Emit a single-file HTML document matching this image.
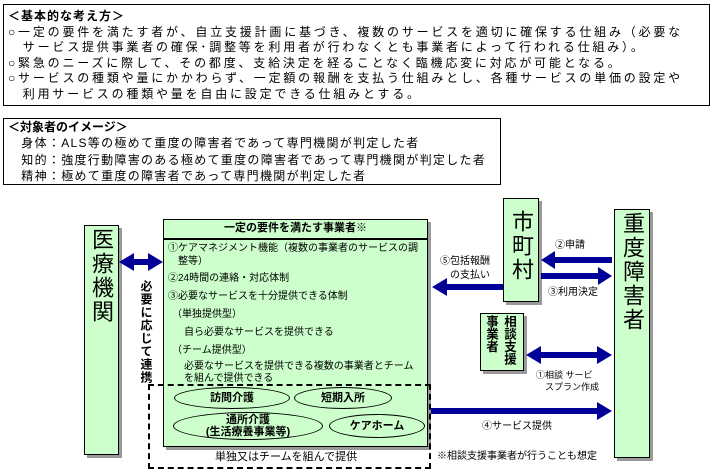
<!DOCTYPE html><html><head><meta charset="utf-8"><style>
body{margin:0;width:713px;height:472px;background:#fff;position:relative;overflow:hidden;font-family:"Liberation Sans","Noto Sans CJK JP",sans-serif;color:#000}
.a{position:absolute}
.box{position:absolute;border:1px solid #000;box-sizing:border-box}
.g{background:#ccffcc;box-shadow:3px 3px 0 #999}
.t{position:absolute;font-size:12px;white-space:nowrap;line-height:15.5px}
.v{position:absolute;writing-mode:vertical-rl;font-size:22px;line-height:30px;letter-spacing:2px}
.el{position:absolute;border:1px solid #000;border-radius:50%;box-sizing:border-box;font-size:11px;font-weight:bold;text-align:center}
</style></head><body>
<div class="box" style="left:3px;top:4px;width:707px;height:102px"></div>
<div class="t" style="left:8px;top:9px;letter-spacing:2.8px"><b style="letter-spacing:1px">＜基本的な考え方＞</b><br>○一定の要件を満たす者が、自立支援計画に基づき、複数のサービスを適切に確保する仕組み（必要な<br>　サービス提供事業者の確保･調整等を利用者が行わなくとも事業者によって行われる仕組み）。<br>○緊急のニーズに際して、その都度、支給決定を経ることなく臨機応変に対応が可能となる。<br>○サービスの種類や量にかかわらず、一定額の報酬を支払う仕組みとし、各種サービスの単価の設定や<br>　利用サービスの種類や量を自由に設定できる仕組みとする。</div>
<div class="box" style="left:3px;top:118px;width:498px;height:67px"></div>
<div class="t" style="left:8px;top:119px;line-height:16.3px;letter-spacing:1.3px"><b style="letter-spacing:0">＜対象者のイメージ＞</b><br>　身体：ALS等の極めて重度の障害者であって専門機関が判定した者<br>　知的：強度行動障害のある極めて重度の障害者であって専門機関が判定した者<br>　精神：極めて重度の障害者であって専門機関が判定した者</div>

<div class="box g" style="left:84px;top:225px;width:35px;height:230px"></div>
<div class="v" style="left:86px;top:228px">医療機関</div>
<div class="a" style="left:138px;top:280px;writing-mode:vertical-rl;font-size:12px;font-weight:bold;letter-spacing:1px">必要に応じて連携</div>

<div class="box g" style="left:163px;top:219px;width:265px;height:228px"></div>
<div class="a" style="left:163px;top:238px;width:265px;border-top:2px solid #000"></div>
<div class="t" style="left:163px;width:265px;top:221px;text-align:center;font-weight:bold;font-size:11px">一定の要件を満たす事業者※</div>
<div class="t" style="left:168px;top:242px;font-size:10px;line-height:13px">①ケアマネジメント機能（複数の事業者のサービスの調<br>　整等）</div>
<div class="t" style="left:168px;top:271px;font-size:10px">②24時間の連絡・対応体制</div>
<div class="t" style="left:168px;top:289px;font-size:10px">③必要なサービスを十分提供できる体制</div>
<div class="t" style="left:172px;top:307px;font-size:10px">（単独提供型）</div>
<div class="t" style="left:184px;top:325px;font-size:10px">自ら必要なサービスを提供できる</div>
<div class="t" style="left:172px;top:343px;font-size:10px">（チーム提供型）</div>
<div class="t" style="left:184px;top:361px;font-size:10px;line-height:12px">必要なサービスを提供できる複数の事業者とチーム<br>を組んで提供できる</div>
<div class="box" style="left:148px;top:384px;width:283px;height:85px;border:2px dashed #000"></div>
<div class="el" style="left:174px;top:387px;width:116px;height:22px;line-height:20px">訪問介護</div>
<div class="el" style="left:294px;top:387px;width:98px;height:22px;line-height:20px">短期入所</div>
<div class="el" style="left:173px;top:412px;width:150px;height:28px;line-height:12px;padding-top:1px">通所介護<br>(生活療養事業等)</div>
<div class="el" style="left:329px;top:414px;width:96px;height:24px;line-height:22px">ケアホーム</div>
<div class="t" style="left:215px;top:450px;font-size:11px">単独又はチームを組んで提供</div>

<div class="box g" style="left:503px;top:198px;width:36px;height:104px"></div>
<div class="v" style="left:506px;top:210px">市町村</div>
<div class="box g" style="left:480px;top:313px;width:44px;height:58px"></div>
<div class="a" style="left:482px;top:315px;writing-mode:vertical-rl;font-size:12.5px;font-weight:bold;line-height:18px">相談支援<br>事業者</div>
<div class="box g" style="left:614px;top:209px;width:36px;height:249px"></div>
<div class="v" style="left:617px;top:212px">重度障害者</div>

<svg class="a" style="left:0;top:0" width="713" height="472">
<g fill="#000099" stroke="none">
<rect x="133" y="259" width="16" height="6"/><polygon points="119,262 134,253 134,271"/><polygon points="163,262 148,253 148,271"/>
<rect x="553" y="257" width="59" height="6"/><polygon points="541,260 555,251 555,269"/>
<rect x="541" y="273" width="58" height="6"/><polygon points="612,276 598,267 598,285"/>
<rect x="446" y="284" width="57" height="6"/><polygon points="432,287 447,278 447,296"/>
<rect x="540" y="352" width="58" height="6"/><polygon points="526,355 541,346 541,364"/><polygon points="612,355 597,346 597,364"/>
<rect x="431" y="408" width="167" height="6"/><polygon points="612,411 597,402 597,420"/>
</g></svg>
<div class="t" style="left:440px;top:255px;font-size:10px;line-height:14px;text-align:right">⑤包括報酬<br>の支払い</div>
<div class="t" style="left:555px;top:238px;font-size:10px">②申請</div>
<div class="t" style="left:548px;top:285px;font-size:10px">③利用決定</div>
<div class="t" style="left:536px;top:369px;font-size:9px;line-height:12px">①相談 サービ<br>　スプラン作成</div>
<div class="t" style="left:482px;top:419px;font-size:10px">④サービス提供</div>
<div class="t" style="left:437px;top:449px;font-size:10px">※相談支援事業者が行うことも想定</div>
</body></html>
